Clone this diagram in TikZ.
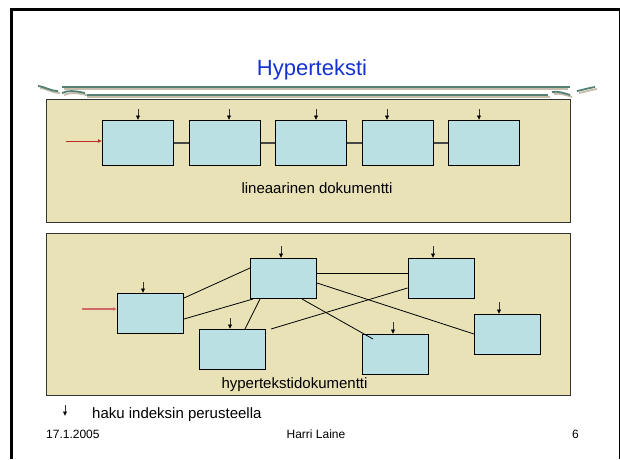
\documentclass[tikz,border=0pt]{standalone}
\usepackage{fontspec}
\setmainfont{Liberation Sans}
\usetikzlibrary{arrows.meta,calc}

\definecolor{paneltan}{RGB}{232,226,182}
\definecolor{boxcyan}{RGB}{186,224,227}
\definecolor{titleblue}{RGB}{20,50,210}
\definecolor{rulegreen}{RGB}{84,128,116}
\definecolor{ruletan}{RGB}{198,188,172}
\definecolor{entryred}{RGB}{190,40,40}
\definecolor{linkgray}{RGB}{70,70,70}

\begin{document}
\begin{tikzpicture}[x=1pt,y=-1pt,
  panel/.style={draw=black!80,line width=0.9pt,fill=paneltan},
  docbox/.style={draw=black,line width=1pt,fill=boxcyan,inner sep=0pt,
    minimum width=71pt,minimum height=45pt},
  hyperbox/.style={draw=black,line width=1pt,fill=boxcyan,inner sep=0pt,
    minimum width=66pt,minimum height=40pt},
  seqlink/.style={draw=linkgray,line width=1.4pt},
  hyperlink/.style={draw=black,line width=0.8pt},
  indexarrow/.style={draw=black!80,line width=0.7pt,
    -{Latex[length=4.5pt,width=4.5pt,fill=black,color=black]}},
  entryarrow/.style={draw=entryred,line width=0.8pt,-{Latex[length=4pt,width=4pt]}},
  label/.style={font=\fontsize{15}{18}\selectfont,anchor=base,inner sep=0pt},
  footer/.style={font=\fontsize{12}{14}\selectfont,anchor=base,inner sep=0pt},
  rulemain/.style={draw=rulegreen,line width=2pt},
  ruleshade/.style={draw=ruletan,line width=2pt}
]
\useasboundingbox (0,0) rectangle (620,459);
\fill[white] (0,0) rectangle (620,459);

% slide frame
\draw[black,line width=3pt] (11,459) -- (11,9.5) -- (620,9.5);
\draw[black,line width=1pt] (619,11) -- (619,459);

% title
\node[anchor=base,inner sep=0pt,text=titleblue,font=\fontsize{22}{26}\selectfont]
  (title) at (312,75) {Hyperteksti};

% ornamental double rule under the title
\draw[ruleshade] (64,89) -- (568,89);
\draw[rulemain]  (62,87) -- (570,87);
\draw[ruleshade] (87,97) -- (550,97);
\draw[rulemain]  (85,95) -- (548,95);
\draw[ruleshade,line width=1.8pt] (40,88) .. controls (48,89) and (52,93) .. (60,93);
\draw[rulemain,line width=1.8pt] (38,86) .. controls (46,87) and (50,91) .. (58,91);
\draw[ruleshade,line width=1.8pt] (64,95) .. controls (70,92) and (78,93) .. (87,95);
\draw[rulemain,line width=1.8pt] (62,93) .. controls (68,90) and (76,91) .. (85,93);
\draw[ruleshade,line width=1.8pt] (579,93) .. controls (585,92) and (590,90) .. (597,89);
\draw[rulemain,line width=1.8pt] (577,91) .. controls (583,90) and (588,88) .. (595,87);
\draw[ruleshade,line width=1.8pt] (554,94) .. controls (560,93) and (566,95) .. (572,97);
\draw[rulemain,line width=1.8pt] (552,92) .. controls (558,91) and (564,93) .. (570,95);

% ---- linear document ----
\node[panel,minimum width=524pt,minimum height=123pt,inner sep=0pt] (linpanel) at (308,160.5) {};
\node[docbox] (s1) at (138,143) {};
\node[docbox] (s2) at (224.5,143) {};
\node[docbox] (s3) at (311,143) {};
\node[docbox] (s4) at (397.5,143) {};
\node[docbox] (s5) at (484,143) {};
\draw[seqlink] (s1.east) -- (s2.west);
\draw[seqlink] (s2.east) -- (s3.west);
\draw[seqlink] (s3.east) -- (s4.west);
\draw[seqlink] (s4.east) -- (s5.west);
\coordinate (linstart) at (66,141);
\draw[entryarrow] (linstart) -- (linstart -| s1.west);
\draw[indexarrow] (138,109) -- (138,0 |- s1.north);
\draw[indexarrow] (229,109) -- (229,0 |- s2.north);
\draw[indexarrow] (316,109) -- (316,0 |- s3.north);
\draw[indexarrow] (387,109) -- (387,0 |- s4.north);
\draw[indexarrow] (479,109) -- (479,0 |- s5.north);
\node[label] (lintext) at (317,193) {lineaarinen dokumentti};

% ---- hypertext document ----
\node[panel,minimum width=524pt,minimum height=162pt,inner sep=0pt] (hyppanel) at (308,314) {};
\node[hyperbox] (ha) at (150.5,313.5) {};
\node[hyperbox] (hb) at (283.5,278.5) {};
\node[hyperbox] (hc) at (232.5,349.5) {};
\node[hyperbox] (hd) at (441,278.5) {};
\node[hyperbox] (he) at (507.5,334.5) {};
\node[hyperbox] (hf) at (395,354.5) {};

\draw[hyperlink] (ha.east |- 0,298) -- (hb.west |- 0,268);
\draw[hyperlink] (ha.east |- 0,319) -- (253,0 |- hb.south);
\draw[hyperlink] (260,0 |- hb.south) -- (245,0 |- hc.north);
\draw[hyperlink] (271,329) -- (hd.west |- 0,288);
\draw[hyperlink] (hb.east |- 0,273) -- (hd.west |- 0,273);
\draw[hyperlink] (hb.east |- 0,283) -- (he.west |- 0,334);
\draw[hyperlink] (302,0 |- hb.south) -- (373,339);

\coordinate (hypstart) at (82,309);
\draw[entryarrow,draw=entryred!70!white,line width=1.4pt] (hypstart) -- (hypstart -| ha.west);
\draw[indexarrow] (143,282) -- (143,0 |- ha.north);
\draw[indexarrow] (281,246) -- (281,0 |- hb.north);
\draw[indexarrow] (230,318) -- (230,0 |- hc.north);
\draw[indexarrow] (433,246) -- (433,0 |- hd.north);
\draw[indexarrow] (499,302) -- (499,0 |- he.north);
\draw[indexarrow] (393,322) -- (393,0 |- hf.north);
\node[label] (hyptext) at (294.5,388) {hypertekstidokumentti};

% legend
\coordinate (legtop) at (65,405);
\coordinate (legend) at (65,416);
\draw[indexarrow] (legtop) -- (legend);
\node[label,anchor=base west] (legtext) at (92,418) {haku indeksin perusteella};

% footer
\node[footer,anchor=base west] (date) at (46,438) {17.1.2005};
\node[footer] (author) at (316,438) {Harri Laine};
\node[footer,anchor=base east] (page) at (579,438) {6};
\end{tikzpicture}
\end{document}
